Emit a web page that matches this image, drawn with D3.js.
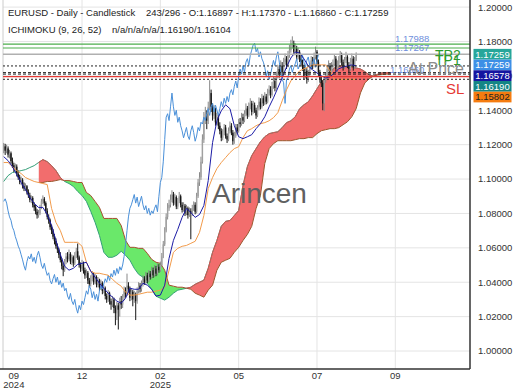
<!DOCTYPE html>
<html>
<head>
<meta charset="utf-8">
<script src="https://cdn.jsdelivr.net/npm/d3@7"></script>
<style>
  body { margin: 0; background: #fff; }
  svg { display: block; font-family: "Liberation Sans", Arial, sans-serif; }
</style>
</head>
<body>
<div id="chart"></div>
<script>
// Daily candles (open of each bar = previous close)
var firstOpen = 1.1170;
var closes = [
  1.1190, 1.1165, 1.1178, 1.1142, 1.1150, 1.1105, 1.1080, 1.1060, 1.1072, 1.1030,
  1.1010, 1.0985, 1.0995, 1.0960, 1.0945, 1.0958, 1.0925, 1.0905, 1.0880, 1.0890,
  1.0850, 1.0835, 1.0810, 1.0790, 1.0800, 1.0835, 1.0870, 1.0885, 1.0860, 1.0815,
  1.0780, 1.0760, 1.0720, 1.0700, 1.0665, 1.0640, 1.0610, 1.0590, 1.0560, 1.0530,
  1.0495, 1.0470, 1.0520, 1.0550, 1.0535, 1.0565, 1.0520, 1.0545, 1.0510, 1.0555,
  1.0580, 1.0545, 1.0500, 1.0480, 1.0510, 1.0470, 1.0440, 1.0455, 1.0410, 1.0390,
  1.0420, 1.0445, 1.0400, 1.0430, 1.0385, 1.0410, 1.0370, 1.0395, 1.0350, 1.0365,
  1.0320, 1.0300, 1.0335, 1.0290, 1.0270, 1.0300, 1.0250, 1.0220, 1.0265, 1.0240,
  1.0290, 1.0270, 1.0310, 1.0350, 1.0330, 1.0380, 1.0360, 1.0310, 1.0345, 1.0300,
  1.0330, 1.0290, 1.0350, 1.0380, 1.0360, 1.0390, 1.0420, 1.0400, 1.0440, 1.0410,
  1.0450, 1.0430, 1.0470, 1.0440, 1.0480, 1.0450, 1.0490, 1.0470, 1.0500, 1.0550,
  1.0620, 1.0700, 1.0780, 1.0830, 1.0850, 1.0880, 1.0910, 1.0860, 1.0895, 1.0840,
  1.0870, 1.0900, 1.0850, 1.0820, 1.0845, 1.0800, 1.0830, 1.0790, 1.0815, 1.0800,
  1.0830, 1.0850, 1.0810, 1.0900, 1.0980, 1.1010, 1.1100, 1.1230, 1.1360, 1.1380,
  1.1340, 1.1420, 1.1500, 1.1420, 1.1370, 1.1400, 1.1330, 1.1360, 1.1310, 1.1280,
  1.1240, 1.1270, 1.1300, 1.1250, 1.1230, 1.1280, 1.1310, 1.1270, 1.1220, 1.1250,
  1.1300, 1.1280, 1.1330, 1.1320, 1.1360, 1.1340, 1.1380, 1.1410, 1.1370, 1.1420,
  1.1440, 1.1390, 1.1430, 1.1400, 1.1370, 1.1410, 1.1450, 1.1420, 1.1470, 1.1440,
  1.1480, 1.1450, 1.1500, 1.1520, 1.1490, 1.1540, 1.1570, 1.1530, 1.1600, 1.1640,
  1.1610, 1.1660, 1.1620, 1.1680, 1.1700, 1.1660, 1.1720, 1.1750, 1.1780, 1.1790,
  1.1740, 1.1760, 1.1710, 1.1740, 1.1700, 1.1680, 1.1650, 1.1600, 1.1630, 1.1580,
  1.1610, 1.1650, 1.1690, 1.1660, 1.1710, 1.1740, 1.1680, 1.1620, 1.1580, 1.1560,
  1.1440, 1.1580, 1.1590, 1.1640, 1.1660, 1.1620, 1.1650, 1.1670, 1.1700, 1.1640,
  1.1660, 1.1690, 1.1720, 1.1680, 1.1650, 1.1690, 1.1710, 1.1660, 1.1640, 1.1680,
  1.1700, 1.1650, 1.16897, 1.17259
];
var highs = [
  1.1210, 1.1205, 1.1200, 1.1190, 1.1170, 1.1160, 1.1125, 1.1095, 1.1090, 1.1085,
  1.1050, 1.1025, 1.1015, 1.1005, 1.0980, 1.0975, 1.0965, 1.0940, 1.0920, 1.0905,
  1.0900, 1.0865, 1.0850, 1.0825, 1.0820, 1.0850, 1.0885, 1.0905, 1.0895, 1.0870,
  1.0830, 1.0795, 1.0770, 1.0735, 1.0710, 1.0680, 1.0655, 1.0625, 1.0600, 1.0575,
  1.0540, 1.0510, 1.0535, 1.0570, 1.0575, 1.0590, 1.0575, 1.0560, 1.0555, 1.0575,
  1.0600, 1.0625, 1.0555, 1.0515, 1.0530, 1.0520, 1.0485, 1.0475, 1.0465, 1.0425,
  1.0440, 1.0465, 1.0455, 1.0450, 1.0440, 1.0430, 1.0420, 1.0415, 1.0405, 1.0385,
  1.0375, 1.0335, 1.0355, 1.0345, 1.0305, 1.0320, 1.0310, 1.0265, 1.0285, 1.0280,
  1.0310, 1.0320, 1.0330, 1.0375, 1.0370, 1.0450, 1.0400, 1.0375, 1.0365, 1.0355,
  1.0350, 1.0340, 1.0370, 1.0400, 1.0395, 1.0410, 1.0440, 1.0435, 1.0460, 1.0455,
  1.0470, 1.0465, 1.0490, 1.0485, 1.0500, 1.0495, 1.0510, 1.0505, 1.0520, 1.0570,
  1.0640, 1.0720, 1.0800, 1.0860, 1.0880, 1.0910, 1.0935, 1.0925, 1.0915, 1.0905,
  1.0890, 1.0925, 1.0910, 1.0865, 1.0865, 1.0855, 1.0850, 1.0840, 1.0835, 1.0830,
  1.0850, 1.0870, 1.0865, 1.0920, 1.1000, 1.1040, 1.1130, 1.1260, 1.1390, 1.1420,
  1.1400, 1.1450, 1.1575, 1.1520, 1.1440, 1.1430, 1.1415, 1.1385, 1.1375, 1.1330,
  1.1295, 1.1290, 1.1320, 1.1315, 1.1265, 1.1300, 1.1335, 1.1325, 1.1285, 1.1275,
  1.1320, 1.1320, 1.1350, 1.1355, 1.1385, 1.1380, 1.1400, 1.1440, 1.1425, 1.1445,
  1.1470, 1.1455, 1.1455, 1.1445, 1.1415, 1.1430, 1.1475, 1.1470, 1.1495, 1.1485,
  1.1505, 1.1495, 1.1525, 1.1545, 1.1540, 1.1565, 1.1600, 1.1590, 1.1625, 1.1665,
  1.1655, 1.1690, 1.1680, 1.1705, 1.1730, 1.1715, 1.1745, 1.1780, 1.1810, 1.1830,
  1.1805, 1.1790, 1.1775, 1.1765, 1.1750, 1.1720, 1.1695, 1.1665, 1.1650, 1.1645,
  1.1635, 1.1675, 1.1715, 1.1710, 1.1735, 1.1770, 1.1750, 1.1695, 1.1635, 1.1600,
  1.1575, 1.1600, 1.1620, 1.1665, 1.1690, 1.1675, 1.1680, 1.1695, 1.1725, 1.1715,
  1.1690, 1.1715, 1.1745, 1.1735, 1.1695, 1.1710, 1.1740, 1.1720, 1.1680, 1.1705,
  1.1730, 1.1715, 1.1710, 1.17370
];
var lows = [
  1.1150, 1.1140, 1.1150, 1.1125, 1.1120, 1.1090, 1.1065, 1.1040, 1.1045, 1.1015,
  1.0995, 1.0970, 1.0965, 1.0945, 1.0930, 1.0930, 1.0910, 1.0890, 1.0865, 1.0860,
  1.0835, 1.0815, 1.0795, 1.0770, 1.0775, 1.0790, 1.0825, 1.0855, 1.0845, 1.0800,
  1.0765, 1.0740, 1.0705, 1.0680, 1.0650, 1.0620, 1.0595, 1.0570, 1.0540, 1.0515,
  1.0475, 1.0435, 1.0460, 1.0505, 1.0515, 1.0525, 1.0505, 1.0500, 1.0490, 1.0500,
  1.0540, 1.0530, 1.0485, 1.0460, 1.0465, 1.0450, 1.0420, 1.0425, 1.0390, 1.0370,
  1.0375, 1.0405, 1.0385, 1.0390, 1.0370, 1.0370, 1.0350, 1.0355, 1.0330, 1.0335,
  1.0300, 1.0280, 1.0285, 1.0270, 1.0240, 1.0255, 1.0220, 1.0150, 1.0180, 1.0125,
  1.0200, 1.0245, 1.0250, 1.0295, 1.0310, 1.0320, 1.0340, 1.0290, 1.0295, 1.0260,
  1.0280, 1.0180, 1.0275, 1.0335, 1.0340, 1.0345, 1.0375, 1.0385, 1.0390, 1.0395,
  1.0400, 1.0415, 1.0420, 1.0425, 1.0430, 1.0435, 1.0440, 1.0455, 1.0460, 1.0490,
  1.0540, 1.0610, 1.0690, 1.0765, 1.0815, 1.0835, 1.0865, 1.0845, 1.0850, 1.0825,
  1.0825, 1.0860, 1.0835, 1.0805, 1.0810, 1.0785, 1.0790, 1.0770, 1.0780, 1.0650,
  1.0785, 1.0815, 1.0795, 1.0800, 1.0890, 1.0960, 1.0995, 1.1090, 1.1210, 1.1320,
  1.1290, 1.1320, 1.1400, 1.1390, 1.1340, 1.1350, 1.1310, 1.1315, 1.1290, 1.1260,
  1.1220, 1.1225, 1.1255, 1.1235, 1.1210, 1.1220, 1.1265, 1.1255, 1.1200, 1.1205,
  1.1240, 1.1260, 1.1270, 1.1300, 1.1310, 1.1320, 1.1330, 1.1365, 1.1350, 1.1360,
  1.1405, 1.1370, 1.1380, 1.1385, 1.1350, 1.1360, 1.1400, 1.1405, 1.1410, 1.1425,
  1.1430, 1.1435, 1.1440, 1.1485, 1.1470, 1.1480, 1.1525, 1.1510, 1.1520, 1.1585,
  1.1590, 1.1600, 1.1600, 1.1610, 1.1665, 1.1640, 1.1650, 1.1705, 1.1735, 1.1760,
  1.1720, 1.1720, 1.1690, 1.1695, 1.1680, 1.1655, 1.1630, 1.1580, 1.1585, 1.1555,
  1.1565, 1.1600, 1.1635, 1.1640, 1.1650, 1.1695, 1.1665, 1.1600, 1.1560, 1.1535,
  1.1400, 1.1395, 1.1560, 1.1575, 1.1625, 1.1600, 1.1605, 1.1630, 1.1655, 1.1625,
  1.1620, 1.1645, 1.1675, 1.1660, 1.1630, 1.1640, 1.1675, 1.1645, 1.1620, 1.1630,
  1.1665, 1.1630, 1.1640, 1.16860
];

// Ichimoku lines, one value every 3 bars (senkou spans already shifted 26 bars ahead)
var lineStep = 3;
var chikouShift = 26;
var tenkan = [
  1.1130, 1.1107, 1.1072, 1.1026, 1.0980, 1.0939, 1.0893, 1.0858, 1.0835, 1.0835,
  1.0794, 1.0730, 1.0643, 1.0562, 1.0493, 1.0470, 1.0481, 1.0504, 1.0510, 1.0516,
  1.0464, 1.0429, 1.0394, 1.0365, 1.0336, 1.0313, 1.0290, 1.0278, 1.0307, 1.0365,
  1.0359, 1.0359, 1.0394, 1.0383, 1.0359, 1.0319, 1.0325, 1.0383, 1.0539, 1.0643,
  1.0707, 1.0777, 1.0829, 1.0806, 1.0777, 1.0794, 1.0846, 1.0991, 1.1212, 1.1339,
  1.1397, 1.1432, 1.1409, 1.1310, 1.1246, 1.1235, 1.1246, 1.1258, 1.1293, 1.1322,
  1.1362, 1.1420, 1.1472, 1.1530, 1.1588, 1.1652, 1.1704, 1.1739, 1.1733, 1.1699,
  1.1658, 1.1635, 1.1617, 1.1600, 1.1588, 1.1594, 1.1617, 1.1641, 1.1652, 1.1658,
  1.1664, 1.16578
];
var kijun = [
  1.1096, 1.1096, 1.1072, 1.1049, 1.1032, 1.1009, 1.0997, 1.0986, 1.0980, 1.0974,
  1.0968, 1.0829, 1.0748, 1.0701, 1.0632, 1.0632, 1.0632, 1.0632, 1.0609, 1.0516,
  1.0464, 1.0452, 1.0452, 1.0446, 1.0441, 1.0417, 1.0394, 1.0377, 1.0342, 1.0325,
  1.0325, 1.0330, 1.0336, 1.0342, 1.0342, 1.0348, 1.0354, 1.0371, 1.0470, 1.0574,
  1.0597, 1.0609, 1.0614, 1.0626, 1.0638, 1.0690, 1.0788, 1.0945, 1.1009, 1.1061,
  1.1096, 1.1125, 1.1154, 1.1177, 1.1188, 1.1241, 1.1281, 1.1293, 1.1310, 1.1322,
  1.1328, 1.1339, 1.1357, 1.1386, 1.1455, 1.1519, 1.1571, 1.1600, 1.1629, 1.1641,
  1.1652, 1.1664, 1.1664, 1.1664, 1.1664, 1.1629, 1.1580, 1.1580, 1.1580, 1.1580,
  1.1580, 1.15802
];
var spanA = [
  1.0986, 1.1020, 1.1038, 1.1043, 1.1049, 1.1055, 1.1067, 1.1078, 1.1096, 1.1113,
  1.1101, 1.1078, 1.1049, 1.1009, 1.0986, 1.0974, 1.0957, 1.0928, 1.0904, 1.0870,
  1.0812, 1.0748, 1.0672, 1.0574, 1.0545, 1.0545, 1.0557, 1.0580, 1.0557, 1.0528,
  1.0481, 1.0446, 1.0429, 1.0394, 1.0359, 1.0319, 1.0307, 1.0296, 1.0313, 1.0336,
  1.0354, 1.0359, 1.0365, 1.0371, 1.0388, 1.0400, 1.0412, 1.0481, 1.0574, 1.0643,
  1.0725, 1.0754, 1.0759, 1.0788, 1.0817, 1.0962, 1.1072, 1.1136, 1.1177, 1.1217,
  1.1246, 1.1264, 1.1270, 1.1275, 1.1299, 1.1328, 1.1339, 1.1362, 1.1409, 1.1432,
  1.1449, 1.1484, 1.1525, 1.1565, 1.1583, 1.1623, 1.1646, 1.1658, 1.1658, 1.1652,
  1.1652, 1.1646, 1.1640, 1.1625, 1.1605, 1.1598, 1.1610, 1.1618, 1.1619, 1.16190
];
var spanB = [
  null, null, null, null, null, null, null, null, 1.0980, 1.0980,
  1.0986, 1.0986, 1.0991, 1.0997, 1.0991, 1.0991, 1.0986, 1.0980, 1.0980, 1.0922,
  1.0904, 1.0870, 1.0835, 1.0771, 1.0771, 1.0771, 1.0771, 1.0730, 1.0643, 1.0603,
  1.0603, 1.0597, 1.0597, 1.0568, 1.0533, 1.0516, 1.0510, 1.0470, 1.0383, 1.0377,
  1.0371, 1.0371, 1.0365, 1.0359, 1.0336, 1.0325, 1.0313, 1.0354, 1.0383, 1.0470,
  1.0516, 1.0528, 1.0539, 1.0574, 1.0603, 1.0643, 1.0678, 1.0725, 1.0829, 1.0904,
  1.1090, 1.1177, 1.1206, 1.1223, 1.1223, 1.1223, 1.1223, 1.1229, 1.1235, 1.1235,
  1.1241, 1.1241, 1.1264, 1.1281, 1.1287, 1.1293, 1.1293, 1.1299, 1.1316, 1.1333,
  1.1362, 1.1409, 1.1501, 1.1559, 1.1583, 1.1600, 1.1605, 1.1608, 1.1610, 1.16104
];

// axis ticks
var tickBars = [7, 54, 108, 162, 216, 270];
var tickMonths = ["09", "12", "02", "05", "07", "09"];
var tickYears = ["2024", "", "2025", "", "", ""];
var priceTicks = [1.00, 1.02, 1.04, 1.06, 1.08, 1.10, 1.12, 1.14, 1.16, 1.18, 1.20];

// trade levels
var tpLevels = [1.1785, 1.1762];
var slLevel = 1.1596;
var totalBars = 296;

var w = 520, h = 390;
var plotL = 3, plotR = 470, plotT = 0, plotB = 369;

var svg = d3.select("#chart").append("svg")
    .attr("width", w)
    .attr("height", h);

var x = d3.scaleLinear().domain([-0.5, 321.5]).range([plotL, plotR]);
var y = d3.scaleLinear().domain([1.0, 1.2]).range([351, 7.1]);

var defs = svg.append("defs");
defs.append("clipPath").attr("id", "plot")
  .append("rect").attr("x", plotL).attr("y", plotT)
  .attr("width", plotR - plotL).attr("height", plotB - plotT);

// grid
var grid = svg.append("g").attr("stroke", "#e4e4e4").attr("stroke-width", 1);
grid.selectAll(".hg").data(priceTicks).enter().append("line")
    .attr("x1", plotL).attr("x2", plotR)
    .attr("y1", function(d) { return y(d); })
    .attr("y2", function(d) { return y(d); });
grid.selectAll(".vg").data(tickBars.slice(1)).enter().append("line")
    .attr("x1", function(d) { return x(d); })
    .attr("x2", function(d) { return x(d); })
    .attr("y1", plotT).attr("y2", plotB);
svg.append("line").attr("x1", plotL).attr("x2", plotL).attr("y1", plotT).attr("y2", plotB)
    .attr("stroke", "#cccccc");

var plot = svg.append("g").attr("clip-path", "url(#plot)");

// cloud
var cloud = spanA.map(function(a, k) { return { i: k * lineStep, a: a, b: spanB[k] }; });
var both = function(d) { return d.b != null; };

var between = d3.area().defined(both)
    .x(function(d) { return x(d.i); })
    .y0(function(d) { return y(d.b); })
    .y1(function(d) { return y(d.a); });
var aboveB = d3.area().defined(both)
    .x(function(d) { return x(d.i); })
    .y0(plotT)
    .y1(function(d) { return y(d.b); });
var belowB = d3.area().defined(both)
    .x(function(d) { return x(d.i); })
    .y0(function(d) { return y(d.b); })
    .y1(plotB);

defs.append("clipPath").attr("id", "aboveB").append("path").attr("d", aboveB(cloud));
defs.append("clipPath").attr("id", "belowB").append("path").attr("d", belowB(cloud));

plot.append("path").attr("d", between(cloud))
    .attr("fill", "#f26d6d").attr("clip-path", "url(#aboveB)");
plot.append("path").attr("d", between(cloud))
    .attr("fill", "#6ae86a").attr("clip-path", "url(#belowB)");

var lineA = d3.line()
    .x(function(d) { return x(d.i); })
    .y(function(d) { return y(d.a); });
var lineB = d3.line().defined(both)
    .x(function(d) { return x(d.i); })
    .y(function(d) { return y(d.b); });

plot.append("path").attr("d", lineA(cloud))
    .attr("fill", "none").attr("stroke", "#35a079").attr("stroke-width", 1);
plot.append("path").attr("d", lineB(cloud))
    .attr("fill", "none").attr("stroke", "#a0522d").attr("stroke-width", 1);
plot.append("path").attr("d", lineA(cloud)).attr("clip-path", "url(#aboveB)")
    .attr("fill", "none").attr("stroke", "#d94f4f").attr("stroke-width", 1);

// candles
var candles = closes.map(function(c, i) {
    return { i: i, o: i ? closes[i - 1] : firstOpen, h: highs[i], l: lows[i], c: c };
});
var cg = plot.append("g");
cg.selectAll(".wick").data(candles).enter().append("line")
    .attr("x1", function(d) { return x(d.i); })
    .attr("x2", function(d) { return x(d.i); })
    .attr("y1", function(d) { return y(d.h); })
    .attr("y2", function(d) { return y(d.l); })
    .attr("stroke", function(d) { return d.c >= d.o ? "#888" : "#151515"; })
    .attr("stroke-width", 1);
cg.selectAll(".body").data(candles).enter().append("rect")
    .attr("x", function(d) { return x(d.i) - 0.7; })
    .attr("width", 1.4)
    .attr("y", function(d) { return y(Math.max(d.o, d.c)); })
    .attr("height", function(d) { return Math.max(1, Math.abs(y(d.o) - y(d.c))); })
    .attr("fill", function(d) { return d.c >= d.o ? "#a0a0a0" : "#151515"; });

// chikou = close drawn 26 bars back
var chikou = closes.slice(chikouShift).map(function(c, k) { return { i: k, v: c }; });
var lineV = d3.line()
    .x(function(d) { return x(d.i); })
    .y(function(d) { return y(d.v); });
plot.append("path").attr("d", lineV(chikou))
    .attr("fill", "none").attr("stroke", "#4a90d9").attr("stroke-width", 1);

var kijunPts = kijun.map(function(v, k) { return { i: k * lineStep, v: v }; });
var tenkanPts = tenkan.map(function(v, k) { return { i: k * lineStep, v: v }; });
plot.append("path").attr("d", lineV(kijunPts))
    .attr("fill", "none").attr("stroke", "#f29b4b").attr("stroke-width", 1);
plot.append("path").attr("d", lineV(tenkanPts))
    .attr("fill", "none").attr("stroke", "#1c1ca6").attr("stroke-width", 1);

// horizontal levels
var last = candles[candles.length - 1];
var lastA = spanA[spanA.length - 1], lastB = spanB[spanB.length - 1];
var lastT = tenkan[tenkan.length - 1], lastK = kijun[kijun.length - 1];

function hline(v, color, width, dash) {
    plot.append("line").attr("x1", plotL).attr("x2", plotR)
        .attr("y1", y(v)).attr("y2", y(v))
        .attr("stroke", color).attr("stroke-width", width)
        .attr("stroke-dasharray", dash || null);
}
tpLevels.forEach(function(v) { hline(v, "#4cae4c", 1.2); });
hline(last.c, "#b0b0b0", 1.5);
hline(lastT, "#222", 1, "2,2");
hline(lastA, "#222", 1, "3,2");
hline(lastB, "#222", 1, "3,2");
hline(slLevel, "#e53935", 1.2);
hline(lastK, "#222", 1, "2,2");

// annotation texts
var ann = svg.append("g");
ann.append("text").attr("x", 395).attr("y", 41.5).text("1.17988")
    .attr("font-size", 9.5).attr("fill", "#6f8fdc");
ann.append("text").attr("x", 395).attr("y", 51).text("1.17267")
    .attr("font-size", 9.5).attr("fill", "#6f8fdc");
ann.append("text").attr("x", 390).attr("y", 72.5).text("1.16860")
    .attr("font-size", 9.5).attr("fill", "#6f8fdc");
ann.append("text").attr("x", 435).attr("y", 60).text("TP2")
    .attr("font-size", 14).attr("fill", "#2e9a2e");
ann.append("text").attr("x", 435).attr("y", 65).text("TP1")
    .attr("font-size", 14).attr("fill", "#2e9a2e");
ann.append("text").attr("x", 408).attr("y", 73.5).text("At Price")
    .attr("font-size", 16).attr("fill", "#8c8c8c");
ann.append("text").attr("x", 446).attr("y", 94).text("SL")
    .attr("font-size", 15).attr("fill", "#e53935");

// watermark
svg.append("text").attr("x", 212).attr("y", 203).text("Arincen")
    .attr("font-size", 28).attr("fill", "#606060");

// header
var hd = svg.append("g").attr("font-size", 9.5).attr("fill", "#222");
hd.append("text").attr("x", 8).attr("y", 16).text("EURUSD - Daily - Candlestick");
hd.append("text").attr("x", 146).attr("y", 16)
    .text((candles.length - 1) + "/" + totalBars + " - O:" + last.o.toFixed(5) +
          " - H:" + last.h.toFixed(5) + " - L:" + last.l.toFixed(5) + " - C:" + last.c.toFixed(5));
hd.append("text").attr("x", 8).attr("y", 33).text("ICHIMOKU (9, 26, 52)");
hd.append("text").attr("x", 112).attr("y", 33)
    .text("n/a/n/a/n/a/" + lastA.toFixed(5) + "/" + lastB.toFixed(5));

// axes
svg.append("line").attr("x1", plotR).attr("x2", plotR).attr("y1", plotT).attr("y2", plotB)
    .attr("stroke", "#333").attr("stroke-width", 1.5);
svg.append("line").attr("x1", 0).attr("x2", plotR).attr("y1", plotB).attr("y2", plotB)
    .attr("stroke", "#333").attr("stroke-width", 1.5);

svg.append("g").selectAll("text").data(priceTicks).enter().append("text")
    .attr("x", 478)
    .attr("y", function(d) { return y(d) + 3.4; })
    .attr("font-size", 9.5).attr("fill", "#333")
    .text(function(d) { return d.toFixed(5); });

var xl = svg.append("g").attr("font-size", 9.5).attr("fill", "#333").attr("text-anchor", "middle");
tickBars.forEach(function(b, k) {
    xl.append("text").attr("x", x(b)).attr("y", 379).text(tickMonths[k]);
    if (tickYears[k]) xl.append("text").attr("x", x(b)).attr("y", 388).text(tickYears[k]);
});

// value boxes on the price axis
var boxes = [
    { v: last.c, fill: "#26a69a", text: "#fff" },
    { v: closes[closes.length - 1], fill: "#3d8fe6", text: "#fff" },
    { v: lastT, fill: "#1414a0", text: "#fff" },
    { v: lastA, fill: "#148585", text: "#fff" },
    { v: lastK, fill: "#f57c10", text: "#222" }
];
var boxH = 10.7, prevY = -100;
boxes.forEach(function(b) {
    var cy = Math.max(y(b.v), prevY + boxH);
    prevY = cy;
    svg.append("rect").attr("x", 473.5).attr("y", cy - boxH / 2)
        .attr("width", 38).attr("height", boxH).attr("fill", b.fill);
    svg.append("text").attr("x", 492.5).attr("y", cy + 3.4)
        .attr("text-anchor", "middle").attr("font-size", 9.5).attr("fill", b.text)
        .text(b.v.toFixed(5));
});
</script>
</body>
</html>
